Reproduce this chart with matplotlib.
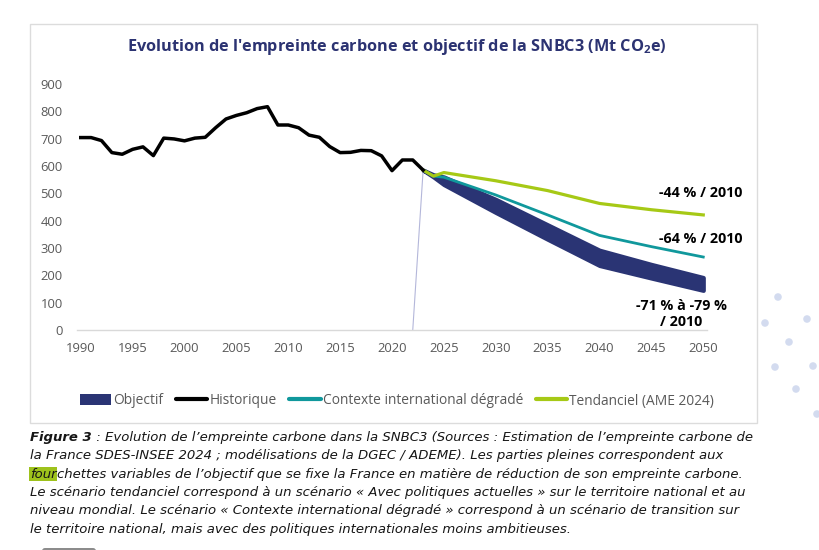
import matplotlib
matplotlib.use('Agg')
import matplotlib.pyplot as plt
from matplotlib.patches import Rectangle, Patch, FancyBboxPatch
from matplotlib.lines import Line2D

plt.rcParams['font.family'] = ['Open Sans', 'DejaVu Sans']
plt.rcParams['mathtext.fontset'] = 'custom'
plt.rcParams['mathtext.rm'] = 'Open Sans'
plt.rcParams['mathtext.bf'] = 'Open Sans:bold'

# donnees (Mt CO2e)
annees_hist = list(range(1990, 2024))
historique = [704, 704, 693, 649, 643, 661, 670, 638, 702, 699,
              692, 702, 705, 740, 772, 785, 795, 810, 817, 750,
              750, 740, 713, 705, 671, 649, 650, 657, 656, 637,
              583, 622, 622, 585]

annees_proj = [2023, 2024, 2025, 2030, 2035, 2040, 2045, 2050]
tendanciel = [585, 563, 576, 546, 510, 463, 440, 421]
contexte = [585, 563, 559, 494, 421, 346, 305, 267]
objectif_haut = [585, 568, 560, 478, 385, 292, 240, 192]
objectif_bas = [585, 560, 532, 430, 332, 236, 190, 145]
# trait de liaison (serie objectif partant de 0)
liaison_x = [2022, 2023]
liaison_y = [0, 585]

etiquettes = ['-44 % / 2010', '-64 % / 2010', '-71 % à -79 %\n/ 2010']
etiq_pos = [(2053.8, 501), (2053.8, 333), (2047.9, 60)]

c_navy = '#2a3474'
c_teal = '#10989c'
c_vert = '#a6c916'
c_gris = '#595959'

W, H = 820, 550
fig = plt.figure(figsize=(W / 100, H / 100), dpi=100)

# calque de fond (cadre, decor)
bg = fig.add_axes([0, 0, 1, 1], zorder=-1)
bg.set_xlim(0, W)
bg.set_ylim(H, 0)
bg.axis('off')
bg.add_patch(Rectangle((30, 24), 727, 399, fill=False, edgecolor='#dcdcdc', lw=1))
dots = [(778, 297), (765, 323), (807, 319), (789, 342), (775, 367),
        (813, 366), (796, 389), (817, 414)]
bg.scatter([d[0] for d in dots], [d[1] for d in dots], s=30, color='#c9d3ec',
           alpha=0.8, edgecolors='none')
bg.add_patch(FancyBboxPatch((42, 548), 54, 6, boxstyle='round,pad=0,rounding_size=3',
                            facecolor='#8c8c8c', edgecolor='none'))

ax = fig.add_axes([76.7 / W, 1 - 330 / H, (707 - 76.7) / W, (330 - 84) / H])
ax.set_facecolor('none')

ax.plot(liaison_x, liaison_y, color='#b4b7da', lw=0.8, zorder=1)
ax.fill_between(annees_proj, objectif_bas, objectif_haut, color=c_navy,
                lw=3, edgecolor=c_navy, zorder=2)
ax.plot(annees_proj, contexte, color=c_teal, lw=2.0, zorder=3)
ax.plot(annees_proj, tendanciel, color=c_vert, lw=2.3, zorder=4)
ax.plot(annees_hist, historique, color='black', lw=2.5, zorder=5)

for txt, (x, y) in zip(etiquettes, etiq_pos):
    ha = 'center' if '\n' in txt else 'right'
    ax.text(x, y, txt, ha=ha, va='center', fontsize=10.3, fontweight='bold',
            color='black', linespacing=1.2, clip_on=False)

ax.set_xlim(1989.61, 2050.36)
ax.set_ylim(0, 900)
ax.set_xticks(range(1990, 2051, 5))
ax.set_yticks(range(0, 901, 100))
for s in ['top', 'right', 'left']:
    ax.spines[s].set_visible(False)
ax.spines['bottom'].set_color('#d9d9d9')
ax.spines['bottom'].set_linewidth(1)
ax.tick_params(axis='both', length=0, labelsize=9.4, labelcolor=c_gris)
ax.tick_params(axis='x', pad=9)
ax.tick_params(axis='y', pad=10)

fig.text(397 / W, 1 - 47 / H,
         "Evolution de l'empreinte carbone et objectif de la SNBC3 (Mt CO$_\\mathbf{2}$e)",
         ha='center', va='center', fontsize=11.7, fontweight='bold', color='#2c3372')

handles = [Patch(facecolor=c_navy, edgecolor='none'),
           Line2D([], [], color='black', lw=3, solid_capstyle='round'),
           Line2D([], [], color=c_teal, lw=3, solid_capstyle='round'),
           Line2D([], [], color=c_vert, lw=3, solid_capstyle='round')]
noms = ['Objectif', 'Historique', 'Contexte international dégradé', 'Tendanciel (AME 2024)']
fig.legend(handles, noms, loc='center', bbox_to_anchor=(397 / W, 1 - 401 / H), ncol=4,
           frameon=False, fontsize=9.9, labelcolor=c_gris, handlelength=2.3,
           handletextpad=0.15, columnspacing=0.9, handleheight=0.8)

# legende de la figure
cap = dict(fontsize=9.55, style='italic', color='#161616', family=['DejaVu Sans'])
base = [441, 459.3, 477.7, 496, 514.3, 532.7]
t1 = fig.text(30 / W, 1 - base[0] / H, 'Figure 3', va='baseline', fontweight='bold', **cap)
ax.annotate(' : Evolution de l’empreinte carbone dans la SNBC3 (Sources : Estimation de l’empreinte carbone de',
            xy=(1, 0), xycoords=t1, va='bottom', annotation_clip=False, **cap)
fig.text(30 / W, 1 - base[1] / H,
         'la France SDES-INSEE 2024 ; modélisations de la DGEC / ADEME). Les parties pleines correspondent aux',
         va='baseline', **cap)
t3 = fig.text(30 / W, 1 - base[2] / H, 'four', va='baseline',
              bbox=dict(boxstyle='square,pad=0.05', facecolor='#9ec21c', edgecolor='none'), **cap)
ax.annotate('chettes variables de l’objectif que se fixe la France en matière de réduction de son empreinte carbone.',
            xy=(1, 0), xycoords=t3, va='bottom', annotation_clip=False, **cap)
fig.text(30 / W, 1 - base[3] / H,
         'Le scénario tendanciel correspond à un scénario « Avec politiques actuelles » sur le territoire national et au',
         va='baseline', **cap)
fig.text(30 / W, 1 - base[4] / H,
         'niveau mondial. Le scénario « Contexte international dégradé » correspond à un scénario de transition sur',
         va='baseline', **cap)
fig.text(30 / W, 1 - base[5] / H,
         'le territoire national, mais avec des politiques internationales moins ambitieuses.',
         va='baseline', **cap)

fig.savefig('out.png', dpi=100)
